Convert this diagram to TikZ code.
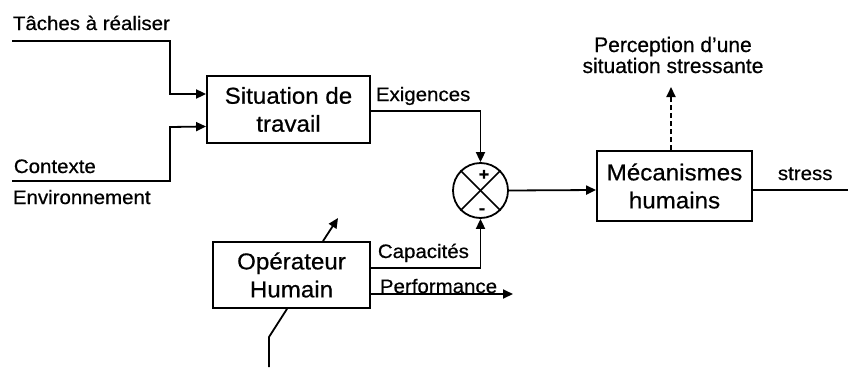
\documentclass[tikz,border=0pt]{standalone}
\usepackage{fontspec}
\setmainfont{Liberation Sans}[FakeStretch=1.05,FakeBold=0.6]
\newfontfamily\plainfont{Liberation Sans}[FakeBold=0.6]
\usetikzlibrary{arrows.meta}
\begin{document}
\begin{tikzpicture}[x=1pt,y=-1pt, line width=1.8pt,
  box/.style={draw, align=center, inner sep=0pt, font=\fontsize{23}{28}\selectfont},
  lbl/.style={inner sep=0pt, anchor=base west, font=\fontsize{19.5}{22}\selectfont},
  sign/.style={inner sep=0pt, font=\bfseries\fontsize{17}{18}\selectfont},
  arr/.style={-{Triangle[length=10pt,width=9pt]}}]
\useasboundingbox (0,0) rectangle (848,367);

% boxes
\node[box, minimum width=163pt, minimum height=67pt] (sit) at (288.5,109.5) {Situation de\\travail};
\node[box, minimum width=157pt, minimum height=66pt] (op) at (291.5,275) {Opérateur\\Humain};
\node[box, minimum width=155pt, minimum height=70pt] (mec) at (674.5,186) {Mécanismes\\humains};
\node[draw, circle, minimum size=55pt, inner sep=0pt] (sum) at (480.5,190.5) {};
\draw[line width=1.6pt] (sum.north west) -- (sum.south east);
\draw[line width=1.6pt] (sum.north east) -- (sum.south west);
\node[sign] (plus) at (484,175) {+};
\node[sign] (minus) at (482,211) {-};

% labels
\node[lbl] (tlab) at (12,30) {Tâches à réaliser};
\node[lbl] (clab) at (13,173) {Contexte};
\node[lbl] (elab) at (12,204) {Environnement};
\node[lbl] (exlab) at (375,101) {Exigences};
\node[lbl] (calab) at (377,258) {Capacités};
\node[lbl] (pflab) at (379,293) {Performance};
\node[lbl] (stlab) at (777,180) {stress};
\node[inner sep=0pt, align=center, font=\plainfont\fontsize{21}{21}\selectfont] (perc) at (673,55) {Perception d’une\\situation stressante};

% free ends
\coordinate (t0) at (12,41);
\coordinate (c0) at (12,181);
\coordinate (stend) at (848,190);
\coordinate (pa) at (671,87);
\coordinate (pfend) at (513,294);
\coordinate (upend) at (338,218);
\coordinate (b0) at (269,367);

% connectors
\draw[arr] (t0) -| (170,94) -- ([yshift=15.5pt]sit.west);
\draw[arr] (c0) -| (170,127) -- ([yshift=-17pt]sit.west);
\draw[arr] ([yshift=-1.5pt]sit.east) -| (sum.north);
\draw[arr] ([yshift=7pt]op.east) -| (sum.south);
\draw[arr] ([yshift=-19pt]op.east) -- (pfend);
\draw[arr] (sum.east) -- ([yshift=-4pt]mec.west);
\draw ([yshift=-4pt]mec.east) -- (stend);
\draw[arr, dashed, dash pattern=on 5pt off 3pt] ([xshift=-3.5pt]mec.north) -- (pa);
\draw[arr] ([xshift=31.5pt]op.north) -- (upend);
\draw (b0) -- (269,337) -- ([xshift=-4.5pt]op.south);
\end{tikzpicture}
\end{document}
